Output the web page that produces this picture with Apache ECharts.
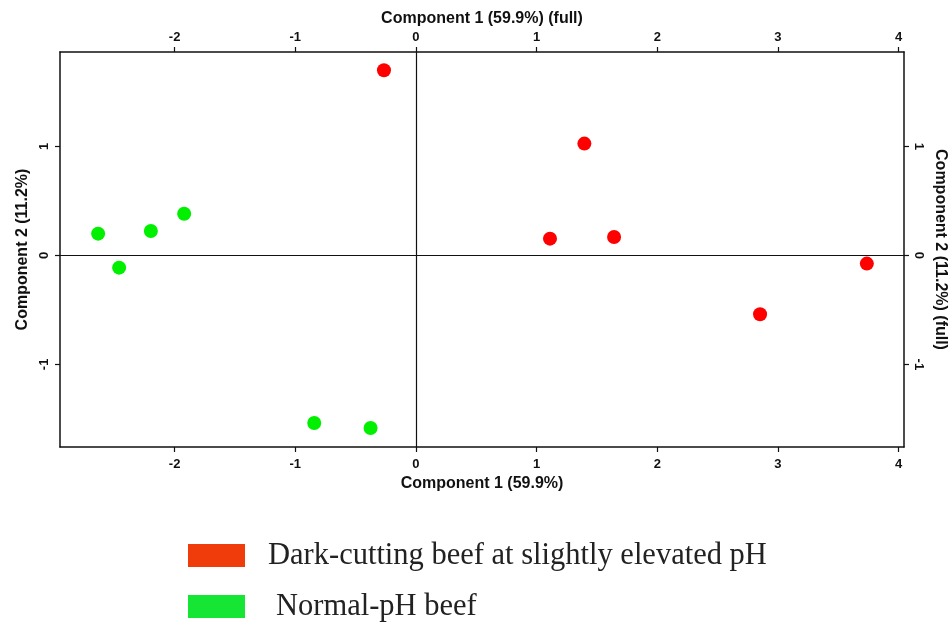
<!DOCTYPE html>
<html>
<head>
<meta charset="utf-8">
<script src="https://cdn.jsdelivr.net/npm/echarts@6/dist/echarts.min.js"></script>
<style>
  html, body { margin: 0; padding: 0; background: #ffffff; }
  #chart { width: 951px; height: 628px; }
</style>
</head>
<body>
<div id="chart"></div>
<script>
// PCA scores: component 1 (x) and component 2 (y) for each carcass
const groupNames = ['Dark-cutting beef at slightly elevated pH', 'Normal-pH beef'];
const darkPc1 = [-0.265, 1.396, 1.111, 1.642, 2.852, 3.737];
const darkPc2 = [1.697, 1.025, 0.153, 0.168, -0.540, -0.076];
const normalPc1 = [-2.634, -2.460, -2.197, -1.921, -0.843, -0.376];
const normalPc2 = [0.199, -0.113, 0.223, 0.382, -1.538, -1.584];
const xTicks = [-2, -1, 0, 1, 2, 3, 4];
const yTicks = [-1, 0, 1];

const pairs = (xs, ys) => xs.map((x, i) => [x, ys[i]]);

const sans = '"Liberation Sans", Arial, sans-serif';
const serif = '"Liberation Serif", "Times New Roman", serif';

const xRange = { min: -2.95, max: 4.045 };
const yRange = { min: -1.758, max: 1.865 };

function xAxisDef(position, name, gap, labelMargin) {
  return {
    type: 'value', position: position, name: name,
    nameLocation: 'middle', nameGap: gap,
    nameTextStyle: { fontFamily: sans, fontWeight: 'bold', fontSize: 16, color: '#111' },
    min: xRange.min, max: xRange.max,
    axisLine: { show: true, onZero: false, lineStyle: { color: '#111', width: 1.5 } },
    axisTick: { show: true, length: 5, customValues: xTicks, lineStyle: { color: '#111', width: 1.2 } },
    axisLabel: { customValues: xTicks, margin: labelMargin, fontFamily: sans, fontWeight: 'bold', fontSize: 13, color: '#111' },
    splitLine: { show: false }
  };
}

function yAxisDef(position, name, gap, labelMargin, rot, nameRot) {
  return {
    type: 'value', position: position, name: name,
    nameLocation: 'middle', nameGap: gap, nameRotate: nameRot,
    nameTextStyle: { fontFamily: sans, fontWeight: 'bold', fontSize: 16, color: '#111' },
    min: yRange.min, max: yRange.max,
    axisLine: { show: true, onZero: false, lineStyle: { color: '#111', width: 1.5 } },
    axisTick: { show: true, length: 5, customValues: yTicks, lineStyle: { color: '#111', width: 1.2 } },
    axisLabel: { customValues: yTicks, margin: labelMargin, rotate: rot, fontFamily: sans, fontWeight: 'bold', fontSize: 13, color: '#111' },
    splitLine: { show: false }
  };
}

function legendDef(name, color, top, textPad) {
  return {
    orient: 'vertical', left: 188, top: top, padding: 0,
    itemWidth: 57, itemHeight: 23,
    icon: 'rect',
    textStyle: { fontFamily: serif, fontSize: 30.5, color: '#222', lineHeight: 23, padding: [0, 0, 0, textPad] },
    data: [{ name: name, itemStyle: { color: color } }]
  };
}

const chart = echarts.init(document.getElementById('chart'), null, { renderer: 'canvas' });

chart.setOption({
  animation: false,
  backgroundColor: '#ffffff',
  grid: { left: 60, right: 47, top: 52, height: 395, outerBoundsMode: 'none', containLabel: false },
  xAxis: [
    xAxisDef('bottom', 'Component 1 (59.9%)', 28, 11),
    xAxisDef('top', 'Component 1 (59.9%) (full)', 25, 8)
  ],
  yAxis: [
    yAxisDef('left', 'Component 2 (11.2%)', 26, 9, 90, 90),
    yAxisDef('right', 'Component 2 (11.2%) (full)', 24, 8, -90, -90)
  ],
  legend: [
    legendDef(groupNames[0], '#f03c0a', 540, 18),
    legendDef(groupNames[1], '#14e633', 591, 26)
  ],
  series: [
    {
      name: groupNames[0], type: 'scatter', symbolSize: 14,
      itemStyle: { color: '#ff0000', opacity: 1 },
      data: pairs(darkPc1, darkPc2),
      markLine: {
        silent: true, symbol: 'none', label: { show: false },
        lineStyle: { color: '#111', width: 1.2, type: 'solid' },
        data: [{ xAxis: 0 }, { yAxis: 0 }]
      }
    },
    {
      name: groupNames[1], type: 'scatter', symbolSize: 14,
      itemStyle: { color: '#00f000', opacity: 1 },
      data: pairs(normalPc1, normalPc2)
    }
  ]
});
</script>
</body>
</html>
